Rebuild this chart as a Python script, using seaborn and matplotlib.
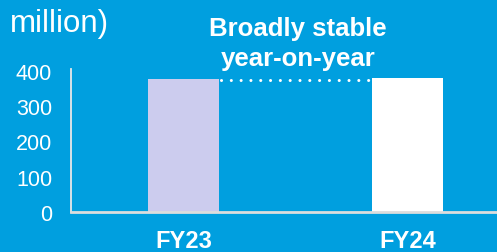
import matplotlib
matplotlib.use("Agg")
import matplotlib.pyplot as plt
import seaborn as sns
import pandas as pd

categories = ["FY23", "FY24"]
values = [377, 380]
bar_colors = ["#CCCCEE", "#FFFFFF"]
yticks = [0, 100, 200, 300, 400]
title_text = "million)"
note_text = "Broadly stable\nyear-on-year"

BG = "#009FDF"
sns.set_theme(style="white")
plt.rcParams["font.family"] = ["Liberation Sans", "DejaVu Sans"]

df = pd.DataFrame({"cat": categories, "val": values})

fig = plt.figure(figsize=(4.97, 2.53), dpi=100, facecolor=BG)
ax = fig.add_axes([71/497, 1 - 213/253, 1 - 71/497, (213 - 70.2)/253])
ax.set_facecolor(BG)

sns.barplot(data=df, x="cat", y="val", hue="cat", palette=bar_colors,
            width=0.317, legend=False, ax=ax, saturation=1,
            linewidth=0, edgecolor="none")

ax.set_ylim(0, 405)
ax.set_xlim(-0.502, 1.3996)
ax.set_yticks(yticks)
ax.set_yticklabels([str(t) for t in yticks], color="white", fontsize=15.5)
ax.set_xticks(range(len(categories)))
ax.set_xticklabels(categories, color="white", fontsize=17, fontweight="bold")
ax.tick_params(axis="y", length=0, pad=13.5)
ax.tick_params(axis="x", length=0, pad=12.5)
ax.set_xlabel("")
ax.set_ylabel("")

for s in ["top", "right"]:
    ax.spines[s].set_visible(False)
ax.spines["left"].set_color("#E8E8E8")
ax.spines["left"].set_linewidth(1.3)
ax.spines["bottom"].set_color("#DDDDDD")
ax.spines["bottom"].set_linewidth(2)

w = 0.317
ax.plot([0 + w/2 + 0.01, 1 - w/2 - 0.01], [values[0] - 3, values[0] - 3], color="white",
        linestyle=(0, (0.01, 3.2)), linewidth=2.2, dash_capstyle="round",
        solid_capstyle="round")

fig.text(10/497, 1 - 24/253, title_text, color="white", fontsize=22.5,
         ha="left", va="center")
fig.text(298/497, 1 - 44/253, note_text, color="white", fontsize=18.5,
         fontweight="bold", ha="center", va="center", linespacing=1.3)

fig.savefig("out.png", dpi=100, facecolor=BG)
